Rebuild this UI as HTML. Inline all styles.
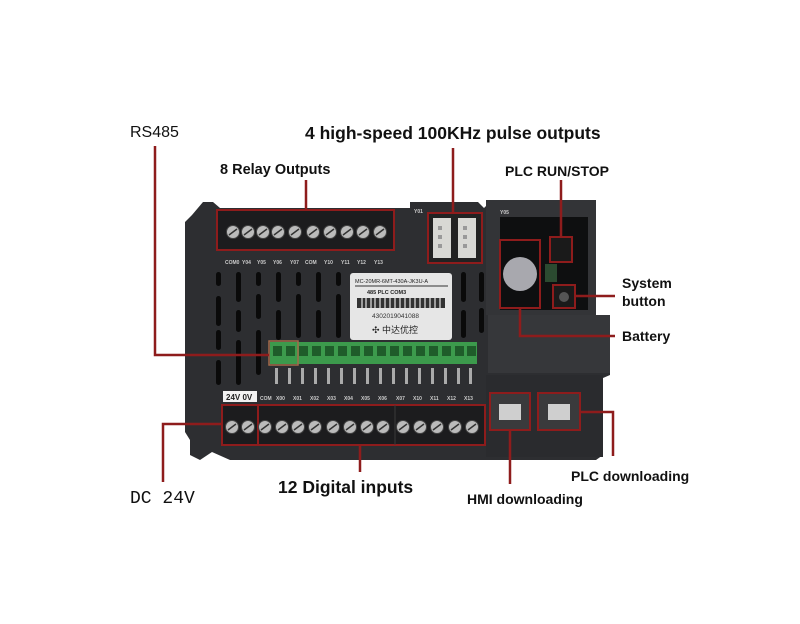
<!DOCTYPE html>
<html><head><meta charset="utf-8"><style>
html,body{margin:0;padding:0;background:#fff;width:800px;height:624px;overflow:hidden}
svg{display:block}
.lb{font-family:"Liberation Sans",Arial,sans-serif;font-weight:bold;fill:#111}
.sm{font-family:"Liberation Sans",sans-serif;font-size:5px;fill:#ccc;font-weight:bold}
</style></head><body>
<svg width="800" height="624" viewBox="0 0 800 624" xmlns="http://www.w3.org/2000/svg">
<path d="M203,202 L213,202 L220,208 L410,208 L410,202 L478,202 L484,208 L490,202 L590,202 L596,210 L596,315 L610,315 L610,375 L603,378 L603,455 L596,460 L230,460 L212,452 L200,460 L190,455 L190,440 L185,432 L185,222 L192,215 Z" fill="#2d2e31"/>
<rect x="486" y="200" width="110" height="115" fill="#333437"/>
<rect x="500" y="217" width="88" height="93" fill="#0e0f10"/>
<rect x="488" y="315" width="122" height="58" fill="#36373a"/>
<rect x="486" y="375" width="117" height="82" fill="#2a2b2e"/>
<g fill="#0a0a0a">
<rect x="216" y="272" width="5" height="14" rx="2.5"/><rect x="216" y="296" width="5" height="30" rx="2.5"/><rect x="216" y="330" width="5" height="20" rx="2.5"/><rect x="216" y="360" width="5" height="25" rx="2.5"/>
<rect x="236" y="272" width="5" height="30" rx="2.5"/><rect x="236" y="310" width="5" height="22" rx="2.5"/><rect x="236" y="340" width="5" height="45" rx="2.5"/>
<rect x="256" y="272" width="5" height="14" rx="2.5"/><rect x="256" y="294" width="5" height="25" rx="2.5"/><rect x="256" y="330" width="5" height="45" rx="2.5"/>
<rect x="276" y="272" width="5" height="30" rx="2.5"/><rect x="276" y="310" width="5" height="30" rx="2.5"/>
<rect x="296" y="272" width="5" height="14" rx="2.5"/><rect x="296" y="294" width="5" height="44" rx="2.5"/>
<rect x="316" y="272" width="5" height="30" rx="2.5"/><rect x="316" y="310" width="5" height="28" rx="2.5"/>
<rect x="336" y="272" width="5" height="14" rx="2.5"/><rect x="336" y="294" width="5" height="44" rx="2.5"/>
<rect x="461" y="272" width="5" height="30" rx="2.5"/><rect x="461" y="310" width="5" height="28" rx="2.5"/>
<rect x="479" y="272" width="5" height="30" rx="2.5"/><rect x="479" y="308" width="5" height="25" rx="2.5"/>
</g>
<rect x="217" y="210" width="177" height="40" fill="#1c1c1e" stroke="#8e1c1c" stroke-width="2"/>
<g fill="#bbb" stroke="#444" stroke-width="1">
<circle cx="233" cy="232" r="6.5"/><circle cx="248" cy="232" r="6.5"/><circle cx="263" cy="232" r="6.5"/><circle cx="278" cy="232" r="6.5"/><circle cx="295" cy="232" r="6.5"/><circle cx="313" cy="232" r="6.5"/><circle cx="330" cy="232" r="6.5"/><circle cx="347" cy="232" r="6.5"/><circle cx="363" cy="232" r="6.5"/><circle cx="380" cy="232" r="6.5"/>
</g>
<g stroke="#333" stroke-width="1.5">
<path d="M229,235l8,-6M244,235l8,-6M259,235l8,-6M274,235l8,-6M291,235l8,-6M309,235l8,-6M326,235l8,-6M343,235l8,-6M359,235l8,-6M376,235l8,-6"/>
</g>
<text class="sm" y="264"><tspan x="225">COM0</tspan><tspan x="242">Y04</tspan><tspan x="257">Y05</tspan><tspan x="273">Y06</tspan><tspan x="290">Y07</tspan><tspan x="305">COM</tspan><tspan x="324">Y10</tspan><tspan x="341">Y11</tspan><tspan x="357">Y12</tspan><tspan x="374">Y13</tspan></text>
<rect x="428" y="213" width="54" height="50" fill="#222" stroke="#8e1c1c" stroke-width="2"/>
<rect x="433" y="218" width="18" height="40" fill="#d8d8d4"/><rect x="458" y="218" width="18" height="40" fill="#d8d8d4"/>
<g fill="#999"><rect x="438" y="226" width="4" height="4"/><rect x="438" y="235" width="4" height="4"/><rect x="438" y="244" width="4" height="4"/><rect x="463" y="226" width="4" height="4"/><rect x="463" y="235" width="4" height="4"/><rect x="463" y="244" width="4" height="4"/></g>
<text class="sm" x="414" y="213">Y01</text><text class="sm" x="500" y="214">Y05</text>
<rect x="500" y="240" width="40" height="68" fill="none" stroke="#8e1c1c" stroke-width="2"/>
<circle cx="520" cy="274" r="17" fill="#a8a8ae"/>
<rect x="550" y="237" width="22" height="25" fill="#1a1a1a" stroke="#8e1c1c" stroke-width="2"/>
<rect x="553" y="285" width="22" height="23" fill="#1a1a1a" stroke="#8e1c1c" stroke-width="2"/>
<circle cx="564" cy="297" r="5" fill="#555"/>
<rect x="545" y="264" width="12" height="18" fill="#2b4a30"/>
<rect x="350" y="273" width="102" height="67" rx="3" fill="#e6e6e6"/>
<text x="355" y="283" font-family="Liberation Sans" font-size="5.5" fill="#222">MC-20MR-6MT-430A-JK3U-A</text>
<line x1="355" y1="286" x2="448" y2="286" stroke="#333"/>
<text x="367" y="294" font-family="Liberation Sans" font-size="5.5" font-weight="bold" fill="#222">485   PLC   COM3</text>
<rect x="357" y="298" width="88" height="10" fill="#333"/>
<g stroke="#e6e6e6" stroke-width="1.2"><path d="M362,298v10M366,298v10M371,298v10M375,298v10M380,298v10M385,298v10M390,298v10M395,298v10M400,298v10M405,298v10M410,298v10M415,298v10M420,298v10M425,298v10M430,298v10M435,298v10M440,298v10"/></g>
<text x="372" y="318" font-family="Liberation Sans" font-size="6.5" fill="#333">4302019041088</text>
<text x="372" y="333" font-family="Liberation Sans,Noto Sans CJK SC,sans-serif" font-size="9" fill="#222">✣ 中达优控</text>
<rect x="270" y="342" width="207" height="22" fill="#3c9a4c"/>
<g fill="#1f5c2a"><rect x="273" y="346" width="9" height="10"/><rect x="286" y="346" width="9" height="10"/><rect x="299" y="346" width="9" height="10"/><rect x="312" y="346" width="9" height="10"/><rect x="325" y="346" width="9" height="10"/><rect x="338" y="346" width="9" height="10"/><rect x="351" y="346" width="9" height="10"/><rect x="364" y="346" width="9" height="10"/><rect x="377" y="346" width="9" height="10"/><rect x="390" y="346" width="9" height="10"/><rect x="403" y="346" width="9" height="10"/><rect x="416" y="346" width="9" height="10"/><rect x="429" y="346" width="9" height="10"/><rect x="442" y="346" width="9" height="10"/><rect x="455" y="346" width="9" height="10"/><rect x="467" y="346" width="9" height="10"/></g>
<rect x="269" y="341" width="29" height="24" fill="none" stroke="#a36a4a" stroke-width="1.5"/>
<g fill="#aaa"><rect x="275" y="368" width="3" height="16"/><rect x="288" y="368" width="3" height="16"/><rect x="301" y="368" width="3" height="16"/><rect x="314" y="368" width="3" height="16"/><rect x="327" y="368" width="3" height="16"/><rect x="340" y="368" width="3" height="16"/><rect x="353" y="368" width="3" height="16"/><rect x="366" y="368" width="3" height="16"/><rect x="379" y="368" width="3" height="16"/><rect x="392" y="368" width="3" height="16"/><rect x="405" y="368" width="3" height="16"/><rect x="418" y="368" width="3" height="16"/><rect x="431" y="368" width="3" height="16"/><rect x="444" y="368" width="3" height="16"/><rect x="457" y="368" width="3" height="16"/><rect x="469" y="368" width="3" height="16"/></g>
<rect x="223" y="391" width="34" height="11" fill="#f2f2f2"/>
<text x="226" y="400" font-family="Liberation Sans" font-size="8" font-weight="bold" fill="#222">24V 0V</text>
<text class="sm" y="400" font-size="5.5"><tspan x="260">COM</tspan><tspan x="276">X00</tspan><tspan x="293">X01</tspan><tspan x="310">X02</tspan><tspan x="327">X03</tspan><tspan x="344">X04</tspan><tspan x="361">X05</tspan><tspan x="378">X06</tspan><tspan x="396">X07</tspan><tspan x="413">X10</tspan><tspan x="430">X11</tspan><tspan x="447">X12</tspan><tspan x="464">X13</tspan></text>
<rect x="222" y="405" width="263" height="40" fill="#1c1c1e" stroke="#8e1c1c" stroke-width="2"/>
<line x1="258" y1="405" x2="258" y2="445" stroke="#8e1c1c" stroke-width="2"/>
<line x1="395" y1="405" x2="395" y2="445" stroke="#3a3a3a" stroke-width="1"/>
<g fill="#bbb" stroke="#444" stroke-width="1">
<circle cx="232" cy="427" r="6.5"/><circle cx="248" cy="427" r="6.5"/><circle cx="265" cy="427" r="6.5"/><circle cx="282" cy="427" r="6.5"/><circle cx="298" cy="427" r="6.5"/><circle cx="315" cy="427" r="6.5"/><circle cx="333" cy="427" r="6.5"/><circle cx="350" cy="427" r="6.5"/><circle cx="367" cy="427" r="6.5"/><circle cx="383" cy="427" r="6.5"/><circle cx="403" cy="427" r="6.5"/><circle cx="420" cy="427" r="6.5"/><circle cx="437" cy="427" r="6.5"/><circle cx="455" cy="427" r="6.5"/><circle cx="472" cy="427" r="6.5"/>
</g>
<g stroke="#333" stroke-width="1.5"><path d="M228,430l8,-6M244,430l8,-6M261,430l8,-6M278,430l8,-6M294,430l8,-6M311,430l8,-6M329,430l8,-6M346,430l8,-6M363,430l8,-6M379,430l8,-6M399,430l8,-6M416,430l8,-6M433,430l8,-6M451,430l8,-6M468,430l8,-6"/></g>
<rect x="490" y="393" width="40" height="37" fill="#3a3a3c" stroke="#8e1c1c" stroke-width="2"/>
<rect x="499" y="404" width="22" height="16" fill="#cfcfcf"/>
<rect x="538" y="393" width="42" height="37" fill="#3a3a3c" stroke="#8e1c1c" stroke-width="2"/>
<rect x="548" y="404" width="22" height="16" fill="#cfcfcf"/>
<g stroke="#8e1c1c" stroke-width="2.5" fill="none">
<path d="M155,146 V355 H269"/>
<path d="M453,148 V213"/>
<path d="M306,180 V210"/>
<path d="M561,180 V237"/>
<path d="M575,296 H615"/>
<path d="M520,308 V336 H615"/>
<path d="M163,482 V424 H222"/>
<path d="M360,445 V472"/>
<path d="M510,430 V484"/>
<path d="M580,412 H613 V456"/>
</g>
<text x="130" y="137" font-family="Liberation Sans" font-size="16" fill="#111">RS485</text>
<text class="lb" x="305" y="139" font-size="17.5">4 high-speed 100KHz pulse outputs</text>
<text class="lb" x="220" y="174" font-size="14.5">8 Relay Outputs</text>
<text class="lb" x="505" y="176" font-size="14">PLC RUN/STOP</text>
<text class="lb" x="622" y="288" font-size="14">System</text>
<text class="lb" x="622" y="306" font-size="14">button</text>
<text class="lb" x="622" y="341" font-size="14">Battery</text>
<text x="130" y="503" font-family="Liberation Mono" font-size="18" fill="#111">DC 24V</text>
<text class="lb" x="278" y="493" font-size="17.5">12 Digital inputs</text>
<text class="lb" x="467" y="504" font-size="14">HMI downloading</text>
<text class="lb" x="571" y="481" font-size="14">PLC downloading</text>
</svg>
</body></html>
